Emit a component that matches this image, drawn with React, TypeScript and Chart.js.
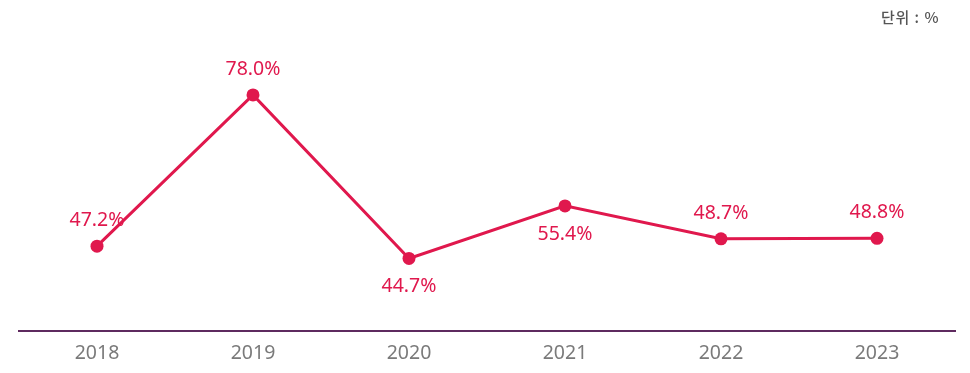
import React, { useEffect, useRef } from "react";
import { Chart, registerables } from "chart.js";

Chart.register(...registerables);

const categories = ["2018", "2019", "2020", "2021", "2022", "2023"];
const values = [47.2, 78.0, 44.7, 55.4, 48.7, 48.8];
const labelPositions = ["above", "above", "below", "below", "above", "above"];
const unitLabel = "단위 : %";

const RED = "#e0184d";

const dataLabelPlugin = {
  id: "dataLabels",
  afterDatasetsDraw(chart: any) {
    const ctx = chart.ctx;
    const meta = chart.getDatasetMeta(0);
    ctx.save();
    ctx.fillStyle = RED;
    ctx.font = '19.5px "Noto Sans", sans-serif';
    ctx.textAlign = "center";
    ctx.textBaseline = "middle";
    meta.data.forEach((pt: any, i: number) => {
      const dy = labelPositions[i] === "above" ? -25.5 : 28.5;
      ctx.fillText(values[i].toFixed(1) + "%", pt.x, pt.y + dy);
    });
    ctx.restore();
  },
};

export default function App() {
  const ref = useRef<HTMLCanvasElement>(null);
  useEffect(() => {
    if (!ref.current) return;
    const chart = new Chart(ref.current, {
      type: "line",
      data: {
        labels: categories,
        datasets: [
          {
            data: values,
            borderColor: RED,
            backgroundColor: RED,
            borderWidth: 3,
            pointRadius: 6.5,
            pointHoverRadius: 6.5,
            pointBackgroundColor: RED,
            pointBorderWidth: 0,
            tension: 0,
          },
        ],
      },
      options: {
        animation: false,
        responsive: true,
        maintainAspectRatio: false,
        layout: { padding: { left: 11, right: 7, top: 28, bottom: 0 } },
        plugins: {
          legend: { display: false },
          tooltip: { enabled: false },
        },
        scales: {
          x: {
            offset: true,
            grid: { display: false, drawTicks: false },
            border: { display: true, color: "#5e2a5f", width: 2 },
            ticks: {
              color: "#7a7a7a",
              font: { family: '"Noto Sans", sans-serif', size: 19.5 },
              padding: 11,
            },
          },
          y: {
            display: false,
            min: 30,
            max: 90,
          },
        },
      },
      plugins: [dataLabelPlugin],
    });
    return () => chart.destroy();
  }, []);
  return (
    <div style={{ position: "relative", width: 954, height: 368 }}>
      <canvas ref={ref} />
      <div
        style={{
          position: "absolute",
          right: 23,
          top: 1,
          lineHeight: "16px",
          fontFamily: '"Noto Sans CJK KR", sans-serif',
          fontSize: 15,
          fontWeight: 500,
          letterSpacing: "0.5px",
          wordSpacing: "1px",
          color: "#555",
          whiteSpace: "pre",
        }}
      >
        {unitLabel}
      </div>
    </div>
  );
}
